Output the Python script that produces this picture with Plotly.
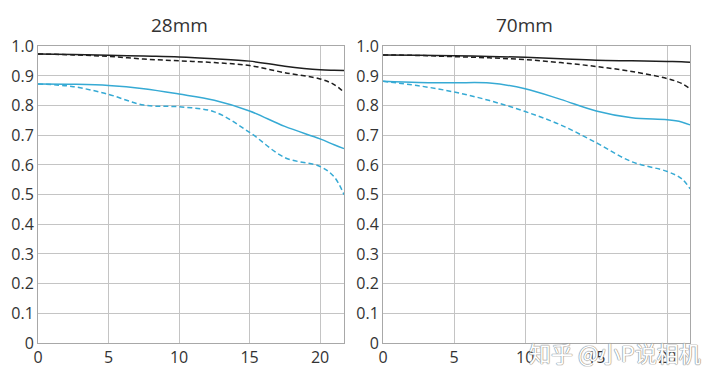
import plotly.graph_objects as go

titles = ["28mm", "70mm"]

x28 = [0, 2.5, 5, 7.5, 10, 12.5, 15, 17.5, 20, 21, 21.7]
s28_black = [0.974, 0.972, 0.970, 0.967, 0.964, 0.958, 0.950, 0.933, 0.921, 0.919, 0.918]
m28_black = [0.974, 0.971, 0.966, 0.957, 0.951, 0.945, 0.935, 0.911, 0.890, 0.871, 0.845]
s28_cyan = [0.873, 0.872, 0.868, 0.857, 0.839, 0.818, 0.782, 0.730, 0.688, 0.668, 0.655]
m28_cyan = [0.873, 0.864, 0.838, 0.802, 0.796, 0.779, 0.710, 0.625, 0.595, 0.560, 0.500]

x70 = [0, 2.5, 5, 7.5, 10, 12.5, 15, 17.5, 20, 21, 21.6]
s70_black = [0.971, 0.970, 0.968, 0.966, 0.963, 0.958, 0.953, 0.951, 0.949, 0.948, 0.946]
m70_black = [0.971, 0.969, 0.965, 0.961, 0.955, 0.945, 0.932, 0.915, 0.891, 0.875, 0.857]
s70_cyan = [0.882, 0.878, 0.877, 0.876, 0.857, 0.821, 0.782, 0.759, 0.752, 0.745, 0.735]
m70_cyan = [0.882, 0.867, 0.846, 0.817, 0.780, 0.735, 0.675, 0.611, 0.578, 0.554, 0.520]

x_ticks = [0, 5, 10, 15, 20]
y_ticks = [0, 0.1, 0.2, 0.3, 0.4, 0.5, 0.6, 0.7, 0.8, 0.9, 1.0]
y_labels = ["0", "0.1", "0.2", "0.3", "0.4", "0.5", "0.6", "0.7", "0.8", "0.9", "1.0"]

BLACK = "#1e1e1e"
CYAN = "#36aad4"
DASH = "5px,3px"

fig = go.Figure()

def add(x, y, color, dash, xa, ya):
    fig.add_trace(go.Scatter(
        x=x, y=y, mode="lines", xaxis=xa, yaxis=ya,
        line=dict(color=color, width=1.5, dash=dash, shape="spline", smoothing=1.0),
        showlegend=False, hoverinfo="skip"))

add(x28, s28_black, BLACK, "solid", "x", "y")
add(x28, m28_black, BLACK, DASH, "x", "y")
add(x28, s28_cyan, CYAN, "solid", "x", "y")
add(x28, m28_cyan, CYAN, DASH, "x", "y")
add(x70, s70_black, BLACK, "solid", "x2", "y2")
add(x70, m70_black, BLACK, DASH, "x2", "y2")
add(x70, s70_cyan, CYAN, "solid", "x2", "y2")
add(x70, m70_cyan, CYAN, DASH, "x2", "y2")

FONT = "Open Sans, Noto Sans, sans-serif"
xcommon = dict(tickvals=x_ticks, showgrid=True, gridcolor="#c4c4c4", gridwidth=1,
               showline=True, linecolor="#a8a8a8", linewidth=1, mirror=True,
               zeroline=False, ticks="", ticklabelstandoff=0,
               tickfont=dict(size=16, color="#333", family=FONT),
               fixedrange=True, automargin=False)
ycommon = dict(range=[0, 1.0], tickvals=y_ticks, ticktext=y_labels, showgrid=True,
               gridcolor="#c4c4c4", gridwidth=1, showline=True, linecolor="#a8a8a8",
               linewidth=1, mirror=True, zeroline=False, ticks="",
               tickfont=dict(size=16, color="#333", family=FONT),
               fixedrange=True, automargin=False)

fig.update_layout(
    width=704, height=365,
    margin=dict(l=0, r=0, t=0, b=0, autoexpand=False),
    paper_bgcolor="white", plot_bgcolor="white",
    xaxis=dict(domain=[0.0426, 0.4773], range=[0, 21.7], anchor="y", **xcommon),
    yaxis=dict(domain=[0.0822, 0.8951], anchor="x", **ycommon),
    xaxis2=dict(domain=[0.5327, 0.9688], range=[0, 21.6], anchor="y2", **xcommon),
    yaxis2=dict(domain=[0.0822, 0.8951], anchor="x2", **ycommon),
    annotations=[
        dict(text=titles[0], x=0.243, y=0.953, xref="paper", yref="paper",
             xanchor="center", yanchor="middle",
             showarrow=False, font=dict(size=19, color="#333", family=FONT)),
        dict(text=titles[1], x=0.733, y=0.953, xref="paper", yref="paper",
             xanchor="center", yanchor="middle",
             showarrow=False, font=dict(size=19, color="#333", family=FONT)),
        dict(text="知乎 @小P说相机", x=0.862, y=0.0575, xref="paper", yref="paper",
             xanchor="center", yanchor="middle",
             showarrow=False,
             font=dict(size=22, color="white", family="Noto Sans CJK SC",
                       shadow="0 0 1px #888, 0 0 1px #888, 0 0 1px #888")),
    ],
)

fig.write_html("out.html")
